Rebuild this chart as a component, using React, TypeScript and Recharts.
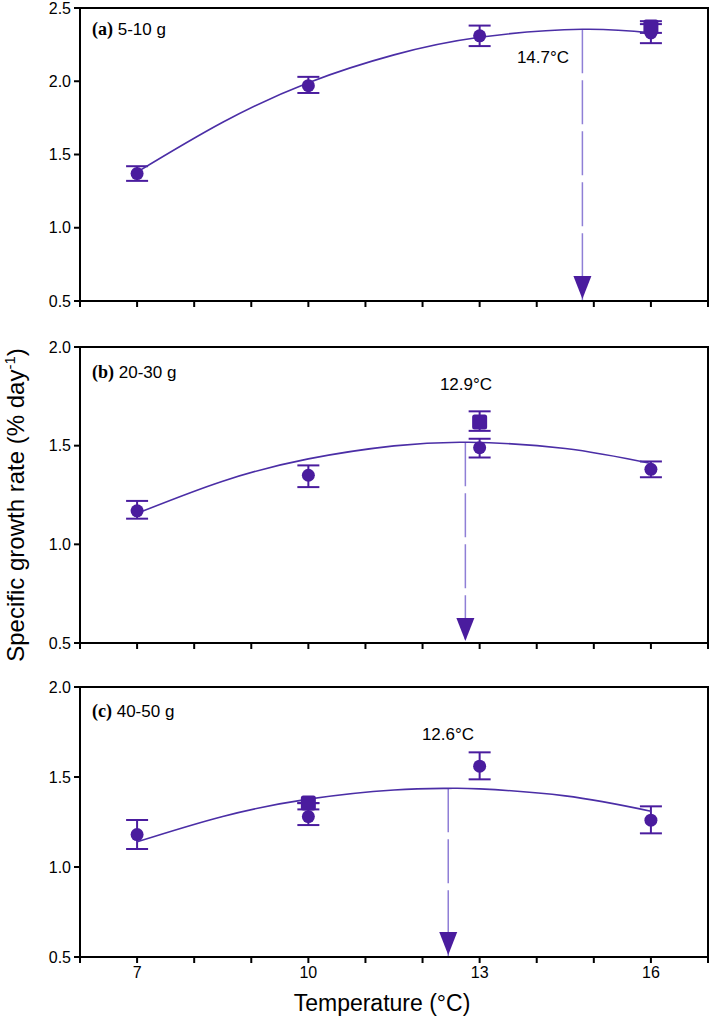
import React from "react";
import {
  ComposedChart,
  XAxis,
  YAxis,
  Line,
  Scatter,
  ErrorBar,
  ReferenceLine,
  ReferenceArea,
} from "recharts";

const PURPLE = "#4a1c9e";
const FIT = "#4b2ea6";
const DASH = "#8f7fd6";
const FONT = "'Liberation Sans', Arial, sans-serif";

const temps = [7, 10, 13, 16];
const xTicks = [6, 7, 8, 9, 10, 11, 12, 13, 14, 15, 16, 17];
const labelledTicks = [7, 10, 13, 16];

// (a) 5-10 g
const meanA = [1.37, 1.97, 2.31, 2.33];
const lowA = [1.32, 1.92, 2.24, 2.26];
const highA = [1.42, 2.03, 2.38, 2.39];
const squareXA = [16];
const squareA = [2.37];
const squareLowA = [2.33];
const squareHighA = [2.41];
const fitXA = [7, 8.5, 10, 11.5, 13, 14.8, 16];
const fitA = [1.38, 1.72, 1.99, 2.18, 2.3, 2.355, 2.33];
const optXA = 14.8;
const optA = 2.355;
const yTicksA = [0.5, 1.0, 1.5, 2.0, 2.5];

// (b) 20-30 g
const meanB = [1.17, 1.35, 1.49, 1.38];
const lowB = [1.13, 1.29, 1.44, 1.34];
const highB = [1.22, 1.4, 1.535, 1.42];
const squareXB = [13];
const squareB = [1.62];
const squareLowB = [1.575];
const squareHighB = [1.674];
const fitXB = [7, 8.5, 10, 11.5, 12.8, 14.5, 16];
const fitB = [1.157, 1.32, 1.433, 1.499, 1.517, 1.486, 1.41];
const optXB = 12.75;
const optB = 1.517;
const yTicksB = [0.5, 1.0, 1.5, 2.0];

// (c) 40-50 g
const meanC = [1.18, 1.28, 1.56, 1.26];
const lowC = [1.1, 1.233, 1.487, 1.187];
const highC = [1.261, 1.32, 1.637, 1.337];
const squareXC = [10];
const squareC = [1.355];
const squareLowC = [1.355];
const squareHighC = [1.355];
const fitXC = [7, 8.5, 10, 11.5, 12.45, 13, 14.5, 16];
const fitC = [1.14, 1.281, 1.377, 1.428, 1.437, 1.434, 1.395, 1.31];
const optXC = 12.45;
const optC = 1.437;
const yTicksC = [0.5, 1.0, 1.5, 2.0];

const points = (xs: number[], ys: number[], lo: number[], hi: number[]) =>
  xs.map((x, i) => ({ x, y: ys[i], err: [ys[i] - lo[i], hi[i] - ys[i]] }));

const line = (xs: number[], ys: number[]) => xs.map((x, i) => ({ x, y: ys[i] }));

const Dot = (p: any) => <circle cx={p.cx} cy={p.cy} r={6.5} fill={PURPLE} />;
const Square = (p: any) => (
  <rect x={p.cx - 7.5} y={p.cy - 7.5} width={15} height={15} rx={2.5} fill={PURPLE} />
);
const Arrow = (p: any) => (
  <polygon
    points={`${p.cx - 9},${p.cy - 25} ${p.cx + 9},${p.cy - 25} ${p.cx},${p.cy - 2}`}
    fill={PURPLE}
  />
);

interface PanelProps {
  top: number;
  plotTop: number;
  plotHeight: number;
  axisHeight: number;
  yMin: number;
  yMax: number;
  yTicks: number[];
  showX: boolean;
  circles: any[];
  squares: any[];
  fit: any[];
  optX: number;
  optY: number;
}

function Panel(props: PanelProps) {
  const { top, plotTop, plotHeight, axisHeight, yMin, yMax, yTicks, showX } = props;
  const height = plotTop + plotHeight + axisHeight;
  return (
    <div style={{ position: "absolute", left: 0, top }}>
      <ComposedChart
        width={710}
        height={height}
        margin={{ top: plotTop, right: 2, bottom: 0, left: 0 }}
      >
        <XAxis
          type="number"
          dataKey="x"
          domain={[6, 17]}
          ticks={xTicks}
          allowDataOverflow
          height={axisHeight}
          tickSize={6}
          tickMargin={4}
          interval={0}
          axisLine={{ stroke: "#000", strokeWidth: 2 }}
          tickLine={{ stroke: "#000", strokeWidth: 2 }}
          tick={{ fill: "#000", fontSize: 16, fontFamily: FONT }}
          tickFormatter={(v: number) => (showX && labelledTicks.includes(v) ? String(v) : "")}
        />
        <YAxis
          type="number"
          domain={[yMin, yMax]}
          ticks={yTicks}
          allowDataOverflow
          width={80}
          tickSize={6}
          tickMargin={3}
          interval={0}
          axisLine={{ stroke: "#000", strokeWidth: 2 }}
          tickLine={{ stroke: "#000", strokeWidth: 2 }}
          tick={{ fill: "#000", fontSize: 16, fontFamily: FONT }}
          tickFormatter={(v: number) => v.toFixed(1)}
        />
        <ReferenceArea
          x1={6}
          x2={17}
          y1={yMin}
          y2={yMax}
          fill="none"
          fillOpacity={0}
          stroke="#000"
          strokeWidth={2}
        />
        <ReferenceLine
          segment={[
            { x: props.optX, y: props.optY },
            { x: props.optX, y: yMin },
          ]}
          stroke={DASH}
          strokeWidth={1.5}
          strokeDasharray="44 7"
        />
        <Scatter data={props.circles} dataKey="y" shape={Dot} isAnimationActive={false}>
          <ErrorBar dataKey="err" direction="y" width={11} stroke={PURPLE} strokeWidth={2} />
        </Scatter>
        <Scatter data={props.squares} dataKey="y" shape={Square} isAnimationActive={false}>
          <ErrorBar dataKey="err" direction="y" width={11} stroke={PURPLE} strokeWidth={2} />
        </Scatter>
        <Line
          data={props.fit}
          dataKey="y"
          type="natural"
          stroke={FIT}
          strokeWidth={1.6}
          dot={false}
          activeDot={false}
          isAnimationActive={false}
        />
        <Scatter
          data={[{ x: props.optX, y: yMin }]}
          dataKey="y"
          shape={Arrow}
          isAnimationActive={false}
        />
      </ComposedChart>
    </div>
  );
}

const titleStyle = (top: number): React.CSSProperties => ({
  position: "absolute",
  left: 92,
  top,
  fontSize: 17,
  fontFamily: FONT,
  color: "#000",
  whiteSpace: "nowrap",
});

const noteStyle = (left: number, top: number): React.CSSProperties => ({
  position: "absolute",
  left,
  top,
  transform: "translate(-50%, -50%)",
  fontSize: 17,
  fontFamily: FONT,
  color: "#000",
  whiteSpace: "nowrap",
});

const serif = { fontFamily: "'Liberation Serif', 'Times New Roman', serif", fontSize: 18 };

export default function App() {
  return (
    <div
      style={{
        position: "absolute",
        left: 0,
        top: 0,
        width: 710,
        height: 1026,
        background: "#fff",
        overflow: "hidden",
      }}
    >
      <Panel
        top={0}
        plotTop={8}
        plotHeight={293}
        axisHeight={20}
        yMin={0.5}
        yMax={2.5}
        yTicks={yTicksA}
        showX={false}
        circles={points(temps, meanA, lowA, highA)}
        squares={points(squareXA, squareA, squareLowA, squareHighA)}
        fit={line(fitXA, fitA)}
        optX={optXA}
        optY={optA}
      />
      <Panel
        top={337}
        plotTop={10}
        plotHeight={296}
        axisHeight={20}
        yMin={0.5}
        yMax={2.0}
        yTicks={yTicksB}
        showX={false}
        circles={points(temps, meanB, lowB, highB)}
        squares={points(squareXB, squareB, squareLowB, squareHighB)}
        fit={line(fitXB, fitB)}
        optX={optXB}
        optY={optB}
      />
      <Panel
        top={677}
        plotTop={10}
        plotHeight={270}
        axisHeight={30}
        yMin={0.5}
        yMax={2.0}
        yTicks={yTicksC}
        showX={true}
        circles={points(temps, meanC, lowC, highC)}
        squares={points(squareXC, squareC, squareLowC, squareHighC)}
        fit={line(fitXC, fitC)}
        optX={optXC}
        optY={optC}
      />

      <div style={titleStyle(19)}>
        <b style={serif}>(a)</b> 5-10 g
      </div>
      <div style={titleStyle(362)}>
        <b style={serif}>(b)</b> 20-30 g
      </div>
      <div style={titleStyle(701)}>
        <b style={serif}>(c)</b> 40-50 g
      </div>

      <div style={noteStyle(543, 58)}>14.7°C</div>
      <div style={noteStyle(466, 385)}>12.9°C</div>
      <div style={noteStyle(448, 735)}>12.6°C</div>

      <div
        style={{
          position: "absolute",
          left: 15,
          top: 505,
          transform: "translate(-50%, -50%) rotate(-90deg)",
          fontSize: 24,
          fontFamily: FONT,
          color: "#000",
          whiteSpace: "nowrap",
        }}
      >
        Specific growth rate (% day<sup style={{ fontSize: 15 }}>-1</sup>)
      </div>
      <div
        style={{
          position: "absolute",
          left: 382,
          top: 1003,
          transform: "translate(-50%, -50%)",
          fontSize: 23,
          fontFamily: FONT,
          color: "#000",
          whiteSpace: "nowrap",
        }}
      >
        Temperature (°C)
      </div>
    </div>
  );
}
